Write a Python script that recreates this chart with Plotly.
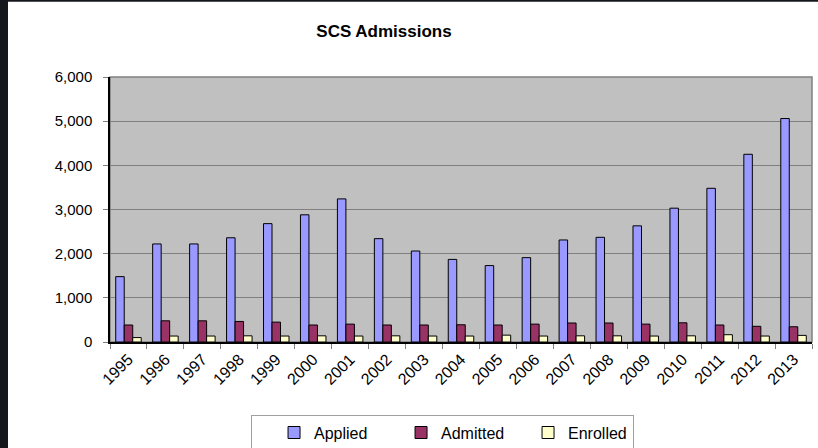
import plotly.graph_objects as go

# --- data ---
years = [str(y) for y in range(1995, 2014)]
applied = [1480, 2220, 2220, 2360, 2680, 2880, 3240, 2340, 2060, 1870,
           1730, 1910, 2310, 2370, 2630, 3030, 3480, 4250, 5060]
admitted = [385, 480, 480, 465, 450, 385, 405, 385, 385, 390,
            385, 405, 430, 430, 405, 435, 385, 355, 345]
enrolled = [100, 135, 135, 140, 135, 140, 135, 140, 135, 135,
            155, 135, 140, 140, 135, 140, 165, 135, 150]
y_ticks = [0, 1000, 2000, 3000, 4000, 5000, 6000]

COLORS = {
    'applied': '#9999FF',
    'admitted': '#993366',
    'enrolled': '#FFFFCC',
    'plot_bg': '#C0C0C0',
    'grid': '#808080',
}
FONT = "Arial, Liberation Sans, sans-serif"

fig = go.Figure()
for name, vals, col in [("Applied", applied, COLORS['applied']),
                        ("Admitted", admitted, COLORS['admitted']),
                        ("Enrolled", enrolled, COLORS['enrolled'])]:
    fig.add_trace(go.Bar(
        x=years, y=vals, name=name,
        marker=dict(color=col, line=dict(color='black', width=1)),
    ))

# plot area border (gray top/right) and the dark frame strips of the screenshot
fig.add_shape(type="rect", xref="paper", yref="paper", x0=0, x1=1, y0=0, y1=1,
              line=dict(color=COLORS['grid'], width=1.5), layer="below")
fig.add_shape(type="rect", xref="paper", yref="paper", x0=-0.16, x1=-0.1453,
              y0=-0.41, y1=1.30, line_width=0, fillcolor="#14171c")
fig.add_shape(type="rect", xref="paper", yref="paper", x0=-0.16, x1=1.01,
              y0=1.2835, y1=1.30, line_width=0, fillcolor="#14171c")

fig.update_layout(
    width=818, height=448,
    margin=dict(l=110, r=6, t=77, b=106, autoexpand=False),
    paper_bgcolor='white', plot_bgcolor=COLORS['plot_bg'],
    barmode='group', bargap=0.31, bargroupgap=0,
    font=dict(family=FONT, color='black'),
    title=dict(text="<b>SCS Admissions</b>", x=384 / 818, xref='container',
               y=1 - 31 / 448, yref='container', xanchor='center', yanchor='middle',
               font=dict(size=17, family=FONT, color='black')),
    showlegend=True,
    legend=dict(orientation='h', x=0.2009, y=-0.274, xanchor='left', yanchor='top',
                bordercolor='#a0a0a0', borderwidth=1, font=dict(size=16),
                entrywidth=60, indentation=22, itemwidth=30, traceorder='normal',
                tracegroupgap=0, itemclick=False),
    xaxis=dict(type='category', showline=True, linecolor='black', linewidth=1.5,
               ticks='outside', tickson='boundaries', ticklen=5, tickcolor='#808080',
               tickangle=-45, tickfont=dict(size=16), showgrid=False,
               automargin=False),
    yaxis=dict(range=[0, 6000], tickvals=y_ticks, tickformat=',', showline=True,
               linecolor='black', linewidth=1.5, ticks='outside', ticklen=5,
               tickcolor='#808080', ticklabelstandoff=8, tickfont=dict(size=15),
               gridcolor=COLORS['grid'], gridwidth=1, zeroline=False,
               automargin=False),
)

# the page's default 8px body margin would shift the whole figure
fig.write_html("out.html", config={"displayModeBar": False},
               post_script="document.body.style.margin='0';")
